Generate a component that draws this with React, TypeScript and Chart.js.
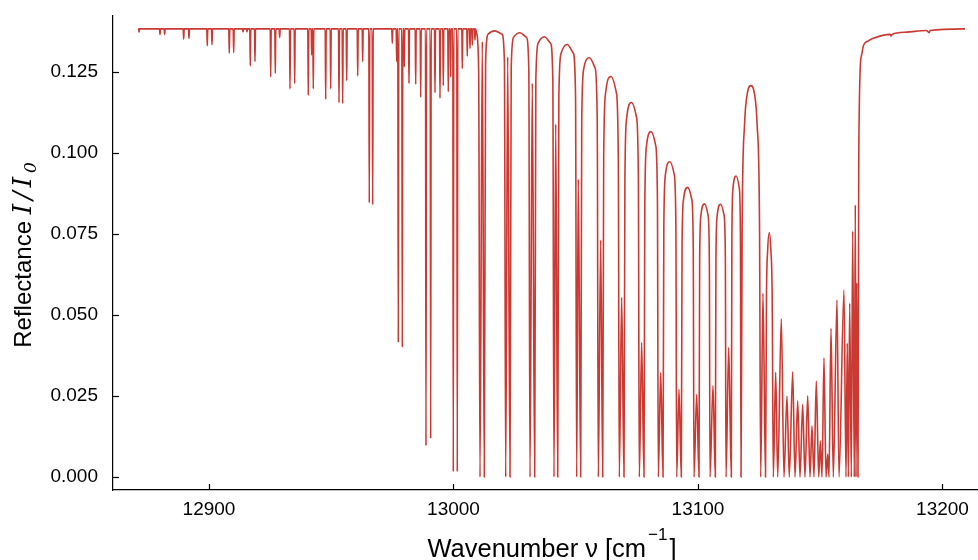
import React, { useEffect, useRef } from "react";
import { Chart, registerables } from "chart.js";

Chart.register(...registerables);

// ---------- data ----------
const BASELINE = 0.1383;
const CURVE_START = 12871.0;
const LINE_HALF_WIDTH = 0.2;

// narrow absorption lines on the flat baseline (wavenumber, minimum reflectance)
const lineNu = [
  12871.37, 12879.96, 12881.88, 12889.65, 12891.82, 12899.3, 12901.23, 12908.3, 12910.1, 12913.91,
  12915.54, 12916.89, 12918.81, 12925.24, 12927.12, 12928.92, 12933.13, 12935.05, 12940.61, 12942.0,
  12942.66, 12947.73, 12949.78, 12953.17, 12954.68, 12956.32, 12960.82, 12962.86, 12965.56, 12966.95,
  12974.97, 12976.77, 12977.42, 12979.06, 12979.88, 12981.8, 12984.54, 12986.58, 12988.75, 12990.67,
  12992.43, 12994.48, 12995.83, 12997.87, 12998.85, 12999.92, 13001.55, 13003.6, 13005.64, 13006.75,
  13007.69, 13008.79,
];
const lineMin = [
  0.1373, 0.1366, 0.1366, 0.1352, 0.1354, 0.1331, 0.1334, 0.1308, 0.131, 0.1374,
  0.1374, 0.1269, 0.1282, 0.1235, 0.1246, 0.1357, 0.1198, 0.1215, 0.1178, 0.1302,
  0.1198, 0.1166, 0.1198, 0.1155, 0.1153, 0.1223, 0.1238, 0.1282, 0.0846, 0.084,
  0.1339, 0.1282, 0.0415, 0.04, 0.1266, 0.1215, 0.1212, 0.1172, 0.0096, 0.0119,
  0.1186, 0.1169, 0.1208, 0.1189, 0.1235, 0.0016, 0.0016, 0.1261, 0.1299, 0.1323,
  0.1333, 0.1349,
];

// fringe region (explicit points)
const fringeNu = [
  13009.5, 13010.3, 13010.84, 13011.78, 13012.6,
  13013.13, 13014.18, 13016.98, 13019.78, 13020.83, 13021.35, 13022.17, 13023.11,
  13023.6, 13024.58, 13027.2, 13029.82, 13030.8, 13031.29, 13032.23, 13033.21,
  13033.68, 13034.63, 13037.16, 13039.68, 13040.63, 13041.1, 13041.8, 13042.62,
  13043.09, 13044.02, 13046.51, 13048.99, 13049.92, 13050.39, 13051.04, 13052.02,
  13052.45, 13053.32, 13055.62, 13057.92, 13058.79, 13059.22, 13060.2, 13061.02,
  13061.43, 13062.24, 13064.42, 13066.59, 13067.4, 13067.81, 13068.79, 13069.73,
  13070.11, 13070.86, 13072.86, 13074.86, 13075.61, 13075.99, 13076.97, 13077.91,
  13078.26, 13078.96, 13080.84, 13082.71, 13083.41, 13083.76, 13084.74, 13085.69,
  13086.03, 13086.7, 13088.49, 13090.28, 13090.95, 13091.29, 13092.23, 13093.17,
  13093.48, 13094.1, 13095.77, 13097.43, 13098.05, 13098.36, 13099.47, 13100.41,
  13100.68, 13101.22, 13102.66, 13104.1, 13104.64, 13104.91, 13106.13, 13107.08,
  13107.34, 13107.87, 13109.27, 13110.66, 13111.19, 13111.45, 13112.56, 13113.62,
  13113.86, 13114.33, 13115.61, 13116.88, 13117.35, 13117.59,
  13118.07, 13119.04, 13120.17, 13121.62, 13123.06, 13124.19, 13125.16, 13125.64,
  13126.58, 13127.61,
  13128.0, 13128.5, 13129.16, 13129.8, 13130.35, 13130.8,
  13131.78, 13132.6, 13134.07, 13135.17, 13136.4, 13137.34, 13138.73, 13139.67,
  13140.78, 13141.72, 13142.82, 13143.76, 13144.87, 13145.81, 13146.63, 13147.44,
  13148.38, 13149.37, 13150.02, 13150.72, 13151.53, 13152.35, 13153.05, 13153.58,
  13154.4, 13155.34, 13156.85, 13157.67, 13159.71, 13160.53, 13161.06, 13161.47,
  13162.05, 13162.7, 13163.27, 13163.93, 13164.34, 13164.62, 13164.91, 13165.44,
];
const fringeR = [
  0.1368, 0.125, 0, 0.1344, 0,
  0.1281, 0.1367, 0.1377, 0.1367, 0.1281, 0, 0.1297, 0,
  0.1261, 0.1357, 0.1371, 0.1357, 0.1261, 0, 0.1215, 0,
  0.1223, 0.1339, 0.1359, 0.1339, 0.1223, 0, 0.1089, 0,
  0.1175, 0.1308, 0.1335, 0.1308, 0.1175, 0, 0.0919, 0,
  0.11, 0.1262, 0.1294, 0.1262, 0.11, 0, 0.0731, 0,
  0.0989, 0.1187, 0.1236, 0.1187, 0.0989, 0, 0.0555, 0,
  0.0925, 0.111, 0.1156, 0.111, 0.0925, 0, 0.0415, 0,
  0.0853, 0.1023, 0.1066, 0.1023, 0.0853, 0, 0.0322, 0,
  0.0778, 0.0934, 0.0973, 0.0934, 0.0778, 0, 0.0271, 0,
  0.0715, 0.0858, 0.0894, 0.0858, 0.0715, 0, 0.0255, 0,
  0.0674, 0.0809, 0.0843, 0.0809, 0.0674, 0, 0.0282, 0,
  0.0674, 0.0808, 0.0842, 0.0808, 0.0674, 0, 0.04, 0,
  0.0743, 0.0892, 0.0929, 0.0892, 0.0743, 0,
  0.0785, 0.1087, 0.1184, 0.1208, 0.1184, 0.1087, 0.0785, 0,
  0.0567, 0,
  0.055, 0.07, 0.0754, 0.07, 0.055, 0,
  0.0323, 0, 0.0488, 0, 0.025, 0, 0.0325, 0,
  0.0235, 0, 0.0224, 0, 0.0251, 0, 0.0157, 0,
  0.0296, 0, 0.0111, 0, 0.0368, 0, 0.0071, 0,
  0.0459, 0, 0.0546, 0, 0.0577, 0, 0.0413, 0,
  0.0536, 0, 0.0759, 0, 0.084, 0, 0.0599, 0,
];

// recovery edge and high-wavenumber tail
const tailNu = [
  13165.73, 13165.96, 13166.38, 13167.08, 13167.61, 13169.65, 13171.7, 13178.53, 13178.94, 13179.35,
  13185.36, 13193.54, 13194.48, 13194.9, 13208.51, 13209.2,
];
const tailR = [
  0.0927, 0.1133, 0.1266, 0.1308, 0.133, 0.1346, 0.1354, 0.1366, 0.1361, 0.1366,
  0.1373, 0.1378, 0.1371, 0.1378, 0.1383, 0.1383,
];

const xTicks = [12900, 13000, 13100, 13200];
const yTicks = [0, 0.025, 0.05, 0.075, 0.1, 0.125];
const X_MIN = 12860.74;
const X_MAX = 13214.52;
const Y_MIN = -0.004012;
const Y_MAX = 0.142284;

const xTitle = "Wavenumber ν [cm";
const xTitleSup = "−1";
const xTitleEnd = "]";
const yTitle = "Reflectance ";

const LINE_COLOR = "#cb3a32";
const FONT = '"Liberation Sans", Arial, sans-serif';

function buildPoints() {
  const pts: { x: number; y: number }[] = [{ x: CURVE_START, y: BASELINE }];
  lineNu.forEach((nu, i) => {
    pts.push({ x: nu - LINE_HALF_WIDTH, y: BASELINE });
    pts.push({ x: nu, y: lineMin[i] });
    pts.push({ x: nu + LINE_HALF_WIDTH, y: BASELINE });
  });
  fringeNu.forEach((nu, i) => pts.push({ x: nu, y: fringeR[i] }));
  tailNu.forEach((nu, i) => pts.push({ x: nu, y: tailR[i] }));
  return pts;
}

const decorPlugin = {
  id: "decor",
  afterDraw(chart: any) {
    const ctx = chart.ctx as CanvasRenderingContext2D;
    const { left, bottom } = chart.chartArea;
    const xs = chart.scales.x;
    const ys = chart.scales.y;
    ctx.save();
    ctx.strokeStyle = "#000";
    ctx.lineWidth = 1.2;
    xTicks.forEach((v) => {
      const px = Math.round(xs.getPixelForValue(v)) + 0.5;
      ctx.beginPath();
      ctx.moveTo(px, bottom);
      ctx.lineTo(px, bottom - 6);
      ctx.stroke();
    });
    yTicks.forEach((v) => {
      const py = Math.round(ys.getPixelForValue(v)) + 0.5;
      ctx.beginPath();
      ctx.moveTo(left, py);
      ctx.lineTo(left + 6, py);
      ctx.stroke();
    });

    // x title with superscript
    ctx.fillStyle = "#000";
    ctx.textBaseline = "alphabetic";
    ctx.textAlign = "left";
    const big = `25.5px ${FONT}`;
    const small = `17px ${FONT}`;
    ctx.font = big;
    const w1 = ctx.measureText(xTitle).width;
    const w3 = ctx.measureText(xTitleEnd).width;
    ctx.font = small;
    const w2 = ctx.measureText(xTitleSup).width;
    const total = w1 + w2 + w3 + 4;
    const x0 = 552 - total / 2;
    const yb = 557;
    ctx.font = big;
    ctx.fillText(xTitle, x0, yb);
    ctx.font = small;
    ctx.fillText(xTitleSup, x0 + w1 + 2, yb - 17);
    ctx.font = big;
    ctx.fillText(xTitleEnd, x0 + w1 + w2 + 4, yb);

    // y title rotated
    ctx.save();
    ctx.translate(31, 255);
    ctx.rotate(-Math.PI / 2);
    const ybig = `24px ${FONT}`;
    ctx.font = ybig;
    const a = ctx.measureText(yTitle).width;
    const it = `italic 26px "DejaVu Serif", serif`;
    const itS = `italic 17px "DejaVu Serif", serif`;
    ctx.font = it;
    const wI = ctx.measureText("I").width;
    const wSl = ctx.measureText("/").width;
    ctx.font = itS;
    const w0 = ctx.measureText("0").width;
    const gap = 4;
    const tot = a + wI * 2 + wSl + w0 + gap * 3;
    let cx = -tot / 2;
    ctx.font = ybig;
    ctx.fillText(yTitle, cx, 0);
    cx += a;
    ctx.font = it;
    ctx.fillText("I", cx, 0);
    cx += wI + gap;
    ctx.fillText("/", cx, 0);
    cx += wSl + gap;
    ctx.fillText("I", cx, 0);
    cx += wI + gap;
    ctx.font = itS;
    ctx.fillText("0", cx, 5);
    ctx.restore();
    ctx.restore();
  },
};

export default function App() {
  const ref = useRef<HTMLCanvasElement | null>(null);
  useEffect(() => {
    if (!ref.current) return;
    const chart = new Chart(ref.current, {
      type: "line",
      data: {
        datasets: [
          {
            data: buildPoints(),
            borderColor: LINE_COLOR,
            borderWidth: 1.6,
            pointRadius: 0,
            cubicInterpolationMode: "monotone",
            fill: false,
          },
        ],
      },
      options: {
        animation: false,
        responsive: false,
        maintainAspectRatio: false,
        layout: { padding: { top: 16, right: 0, left: 0, bottom: 0 } },
        plugins: { legend: { display: false }, tooltip: { enabled: false } },
        scales: {
          x: {
            type: "linear",
            min: X_MIN,
            max: X_MAX,
            afterBuildTicks: (s: any) => {
              s.ticks = xTicks.map((v) => ({ value: v }));
            },
            afterFit: (s: any) => {
              s.height = 70;
              s.paddingLeft = 0;
              s.paddingRight = 0;
            },
            grid: { display: false, drawTicks: false },
            border: { display: true, color: "#000", width: 1.2 },
            ticks: {
              padding: 8,
              color: "#000",
              font: { family: FONT, size: 19 },
              maxRotation: 0,
              callback: (v: any) => String(v),
            },
          },
          y: {
            type: "linear",
            min: Y_MIN,
            max: Y_MAX,
            afterBuildTicks: (s: any) => {
              s.ticks = yTicks.map((v) => ({ value: v }));
            },
            afterFit: (s: any) => {
              s.width = 113;
              s.paddingTop = 0;
              s.paddingBottom = 0;
            },
            grid: { display: false, drawTicks: false },
            border: { display: true, color: "#000", width: 1.2 },
            ticks: {
              padding: 15,
              color: "#000",
              font: { family: FONT, size: 19 },
              callback: (v: any) => Number(v).toFixed(3),
            },
          },
        },
      },
      plugins: [decorPlugin],
    });
    return () => chart.destroy();
  }, []);
  return (
    <div style={{ position: "fixed", left: 0, top: 0, width: 978, height: 560, background: "#fff" }}>
      <canvas ref={ref} width={978} height={560} style={{ width: 978, height: 560 }} />
    </div>
  );
}
